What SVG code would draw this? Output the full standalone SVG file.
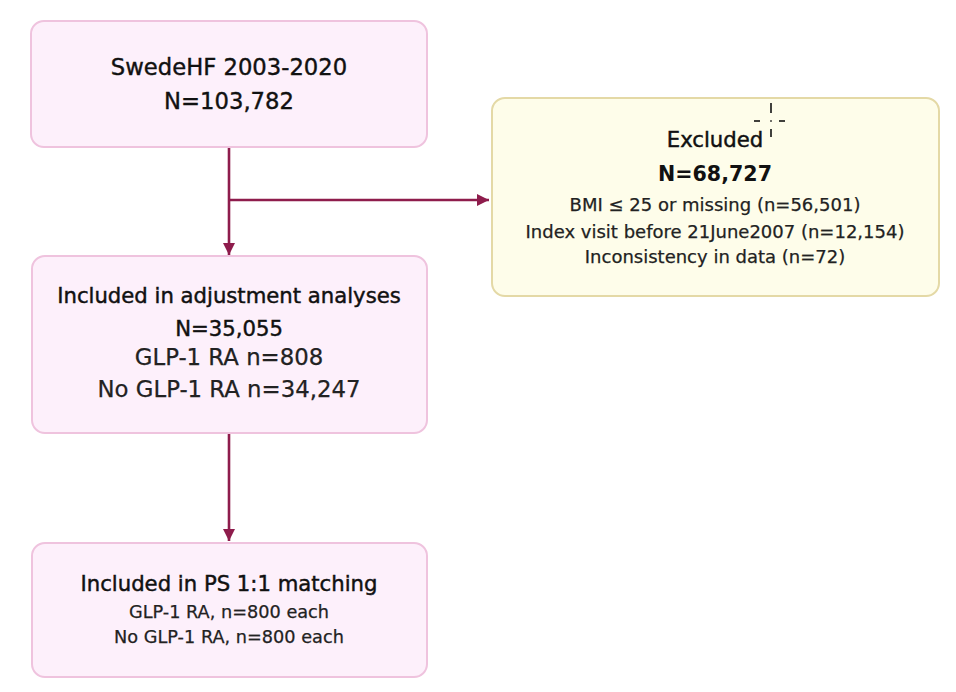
<svg xmlns="http://www.w3.org/2000/svg" width="956" height="692" viewBox="0 0 956 692">
<style>
.pink{fill:#fdf0fb;stroke:#efc3de;stroke-width:2}
.yel{fill:#fefdea;stroke:#e4d9a6;stroke-width:2}
text{font-family:"DejaVu Sans",Verdana,sans-serif;text-anchor:middle;fill:#111;stroke:#111;stroke-width:0.25}
.t{font-size:22.7px;stroke-width:0.4}
.h{font-size:21.2px;stroke-width:0.45}
.b{font-size:20.6px;font-weight:bold;stroke-width:0}
.m{font-size:22.8px;fill:#222;stroke:#222}
.s{font-size:18px;fill:#222;stroke:#222}
.s2{font-size:17.7px;fill:#222;stroke:#222}
.c{fill:none;stroke:#8e1c4c;stroke-width:2.6}
.x{stroke:#111;stroke-width:1.6}
</style>
<defs>
<marker id="ah" viewBox="0 0 12 12" refX="12" refY="6" markerWidth="12" markerHeight="12" markerUnits="userSpaceOnUse" orient="auto">
<path d="M0,0 L12,6 L0,12 z" fill="#8e1c4c"/>
</marker>
</defs>
<rect width="956" height="692" fill="#fff"/>
<g id="connectors">
<path class="c" d="M229,147 V255" marker-end="url(#ah)"/>
<path class="c" d="M229,200 H489" marker-end="url(#ah)"/>
<path class="c" d="M229,433 V541" marker-end="url(#ah)"/>
</g>
<g id="n1">
<rect class="pink" x="31" y="21" width="396" height="126" rx="13"/>
<text class="t" x="229" y="75">SwedeHF 2003-2020</text>
<text class="t" x="229" y="109">N=103,782</text>
</g>
<g id="n2">
<rect class="yel" x="492" y="98" width="447" height="198" rx="13"/>
<text class="h" x="715" y="147">Excluded</text>
<g id="cursor">
<line class="x" x1="771" y1="103" x2="771" y2="113"/>
<line class="x" x1="754" y1="121" x2="760" y2="121"/>
<line class="x" x1="779" y1="121" x2="785" y2="121"/>
<line class="x" x1="770.2" y1="121" x2="771.8" y2="121"/>
<line class="x" x1="771" y1="129" x2="771" y2="137"/>
</g>
<text class="b" x="715" y="181">N=68,727</text>
<text class="s" x="715" y="211">BMI ≤ 25 or missing (n=56,501)</text>
<text class="s" x="715" y="238">Index visit before 21June2007 (n=12,154)</text>
<text class="s" x="715" y="263">Inconsistency in data (n=72)</text>
</g>
<g id="n3">
<rect class="pink" x="32" y="256" width="395" height="177" rx="13"/>
<text class="h" x="229" y="303">Included in adjustment analyses</text>
<text class="h" x="229" y="336">N=35,055</text>
<text class="m" x="229" y="365">GLP-1 RA n=808</text>
<text class="m" x="229" y="397">No GLP-1 RA n=34,247</text>
</g>
<g id="n4">
<rect class="pink" x="32" y="543" width="395" height="134" rx="13"/>
<text class="h" x="229" y="591">Included in PS 1:1 matching</text>
<text class="s2" x="229" y="618">GLP-1 RA, n=800 each</text>
<text class="s2" x="229" y="643">No GLP-1 RA, n=800 each</text>
</g>
</svg>
